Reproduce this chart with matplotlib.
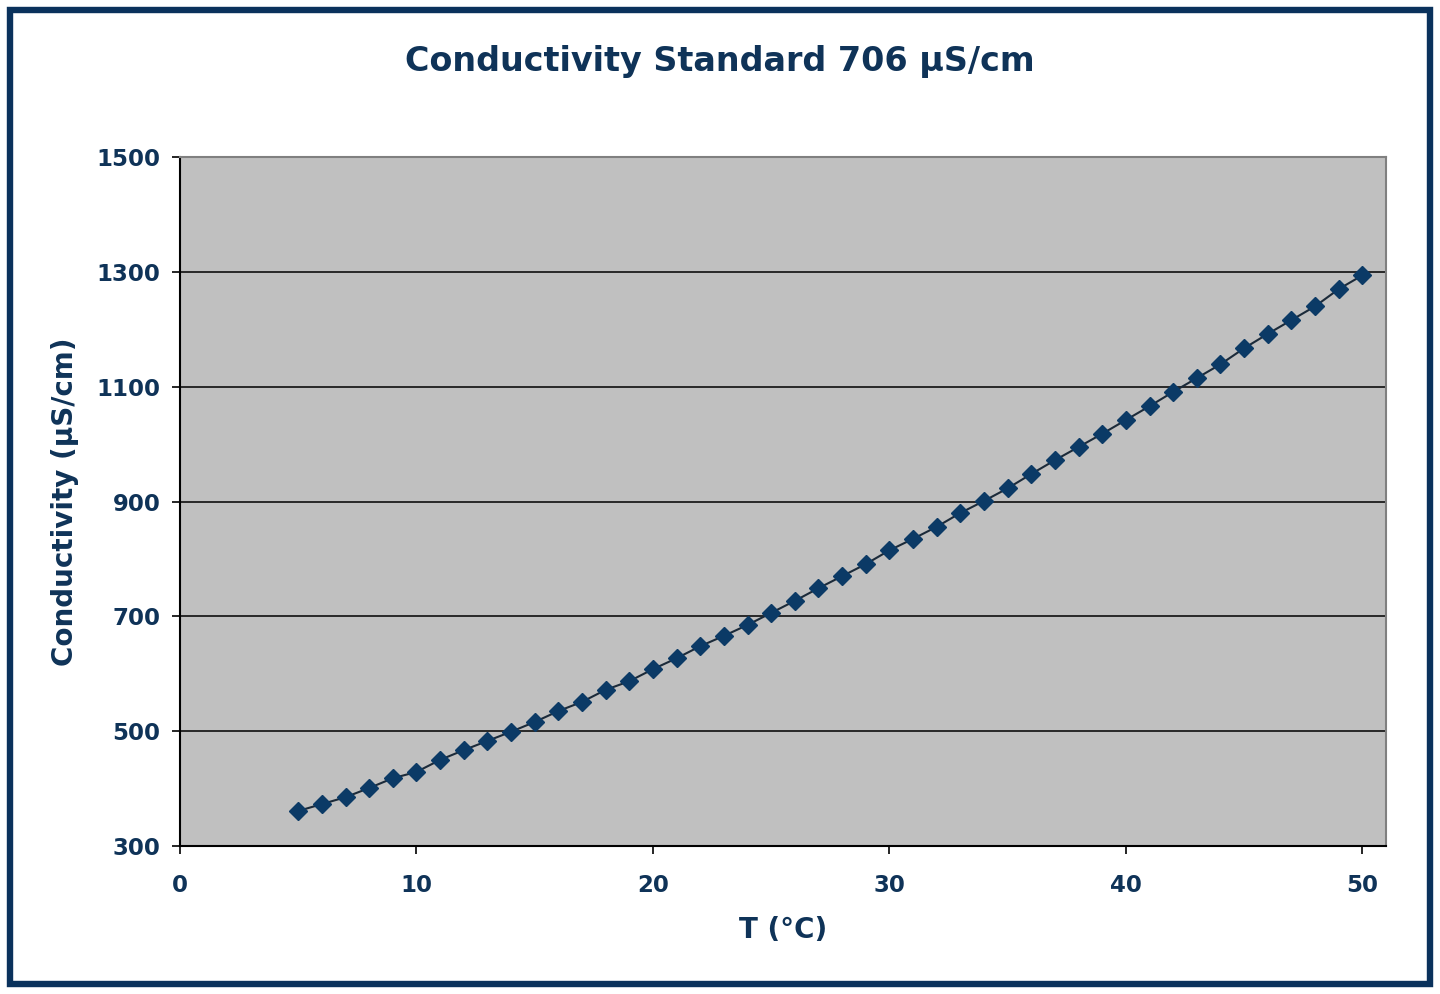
import matplotlib
matplotlib.use("Agg")
import matplotlib.pyplot as plt
from matplotlib.patches import Rectangle

temperature = [5, 6, 7, 8, 9, 10, 11, 12, 13, 14, 15, 16, 17, 18, 19, 20, 21, 22, 23, 24, 25,
               26, 27, 28, 29, 30, 31, 32, 33, 34, 35, 36, 37, 38, 39, 40, 41, 42, 43, 44, 45,
               46, 47, 48, 49, 50]
conductivity = [361, 373, 385, 401, 418, 429, 450, 467, 483, 499, 516, 535, 551, 572, 587,
                608, 627, 648, 666, 685, 706, 727, 749, 770, 791, 815, 835, 856, 880, 901,
                923, 948, 972, 995, 1018, 1042, 1066, 1091, 1115, 1139, 1167, 1192, 1216,
                1240, 1270, 1294]
x_ticks = [0, 10, 20, 30, 40, 50]
y_ticks = [300, 500, 700, 900, 1100, 1300, 1500]

navy = "#0f3358"
plt.rcParams['font.family'] = ['DejaVu Sans']
plt.rcParams['font.weight'] = 'bold'

fig = plt.figure(figsize=(14.4, 9.94), dpi=100)
fig.patches.append(Rectangle((0.0069, 0.0101), 0.986, 0.98, transform=fig.transFigure,
                             fill=False, edgecolor="#0a325c", linewidth=4.6, zorder=10))

ax = fig.add_axes([0.125, 0.1489, 0.8375, 0.6931])
ax.set_facecolor("#c0c0c0")
ax.plot(temperature, conductivity, color="#1c2b3a", linewidth=1.5,
        marker="D", markersize=9, markerfacecolor="#0b3a66", markeredgecolor="#0b3a66")

ax.set_xlim(0, 51)
ax.set_ylim(300, 1500)
ax.set_xticks(x_ticks)
ax.set_yticks(y_ticks)
ax.yaxis.grid(True, color="black", linewidth=1.1)
ax.set_axisbelow(True)

for s in ["top", "right"]:
    ax.spines[s].set_color("#808080")
    ax.spines[s].set_linewidth(1.5)
for s in ["left", "bottom"]:
    ax.spines[s].set_color("black")
    ax.spines[s].set_linewidth(1.5)

ax.tick_params(axis="both", direction="out", length=6, width=1.2, colors="black",
               labelcolor=navy, labelsize=16.5)
ax.tick_params(axis="x", pad=14)
ax.tick_params(axis="y", pad=8)
for lbl in ax.get_xticklabels() + ax.get_yticklabels():
    lbl.set_fontweight("bold")

ax.set_xlabel("T (°C)", fontsize=20, fontweight="bold", color=navy, va="center")
ax.xaxis.set_label_coords(0.5, -0.122)
ax.set_ylabel("Conductivity (µS/cm)", fontsize=20, fontweight="bold", color=navy, va="center")
ax.yaxis.set_label_coords(-0.0954, 0.5)

fig.text(0.5, 0.938, "Conductivity Standard 706 µS/cm", ha="center", va="center",
         fontsize=24, fontweight="bold", color=navy)

fig.savefig("out.png", dpi=100, facecolor="white")
